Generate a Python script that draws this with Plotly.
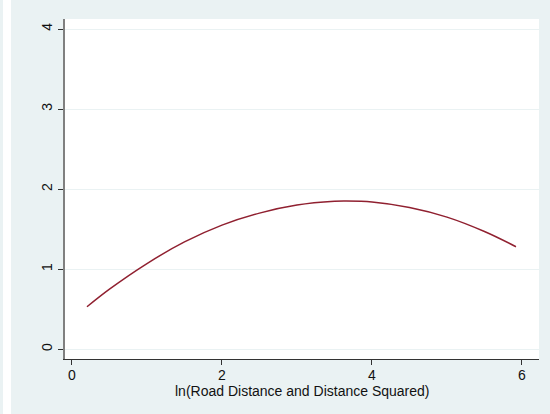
import plotly.graph_objects as go

# Data
x_vals = [0.2, 0.5, 1.0, 1.5, 2.0, 2.5, 3.0, 3.5, 3.65, 4.0, 4.5, 5.0, 5.5, 5.92]
y_vals = [0.53, 0.75, 1.07, 1.34, 1.55, 1.70, 1.80, 1.847, 1.85, 1.838, 1.77, 1.65, 1.47, 1.28]
x_ticks = [0, 2, 4, 6]
y_ticks = [0, 1, 2, 3, 4]
x_title = "ln(Road Distance and Distance Squared)"

BG = "#EAF2F3"
FONT = "Liberation Sans, Arial, sans-serif"
FS = 14

fig = go.Figure()
fig.add_trace(go.Scatter(
    x=x_vals, y=y_vals, mode="lines", line=dict(color="#902030", width=1.5, shape="spline"),
    showlegend=False, hoverinfo="skip"))

fig.update_layout(
    width=550, height=414,
    margin=dict(l=65, r=11, t=19, b=55),
    paper_bgcolor=BG, plot_bgcolor="white",
    font=dict(family=FONT, size=FS, color="#111111"),
    xaxis=dict(
        range=[-0.093, 6.227], tickvals=x_ticks, ticktext=[str(v) for v in x_ticks],
        showgrid=False, zeroline=False, showline=True, linecolor="#333333", linewidth=1,
        ticks="outside", ticklen=5, tickcolor="#333333", tickwidth=1, ticklabelstandoff=-2,
        tickfont=dict(family=FONT, size=FS, color="#111111"),
    ),
    yaxis=dict(
        range=[-0.1225, 4.125], tickvals=y_ticks, ticktext=[str(v) for v in y_ticks],
        showgrid=True, gridcolor=BG, gridwidth=1, zeroline=False,
        showline=True, linecolor="#808080", linewidth=2,
        ticks="outside", ticklen=5, tickcolor="#333333", tickwidth=1,
        tickangle=-90, tickfont=dict(family=FONT, size=FS, color="#111111"),
    ),
    annotations=[dict(text=x_title, xref="paper", yref="paper", x=0.5, y=(359 - 391) / 340,
                      xanchor="center", yanchor="middle", showarrow=False,
                      font=dict(family=FONT, size=FS, color="#111111"))],
    shapes=[dict(type="rect", xref="paper", yref="paper",
                 x0=(3 - 65) / 474, x1=(11 - 65) / 474, y0=-0.3, y1=1.1,
                 fillcolor="white", line=dict(width=0), layer="below")],
)

fig.write_html("out.html")
